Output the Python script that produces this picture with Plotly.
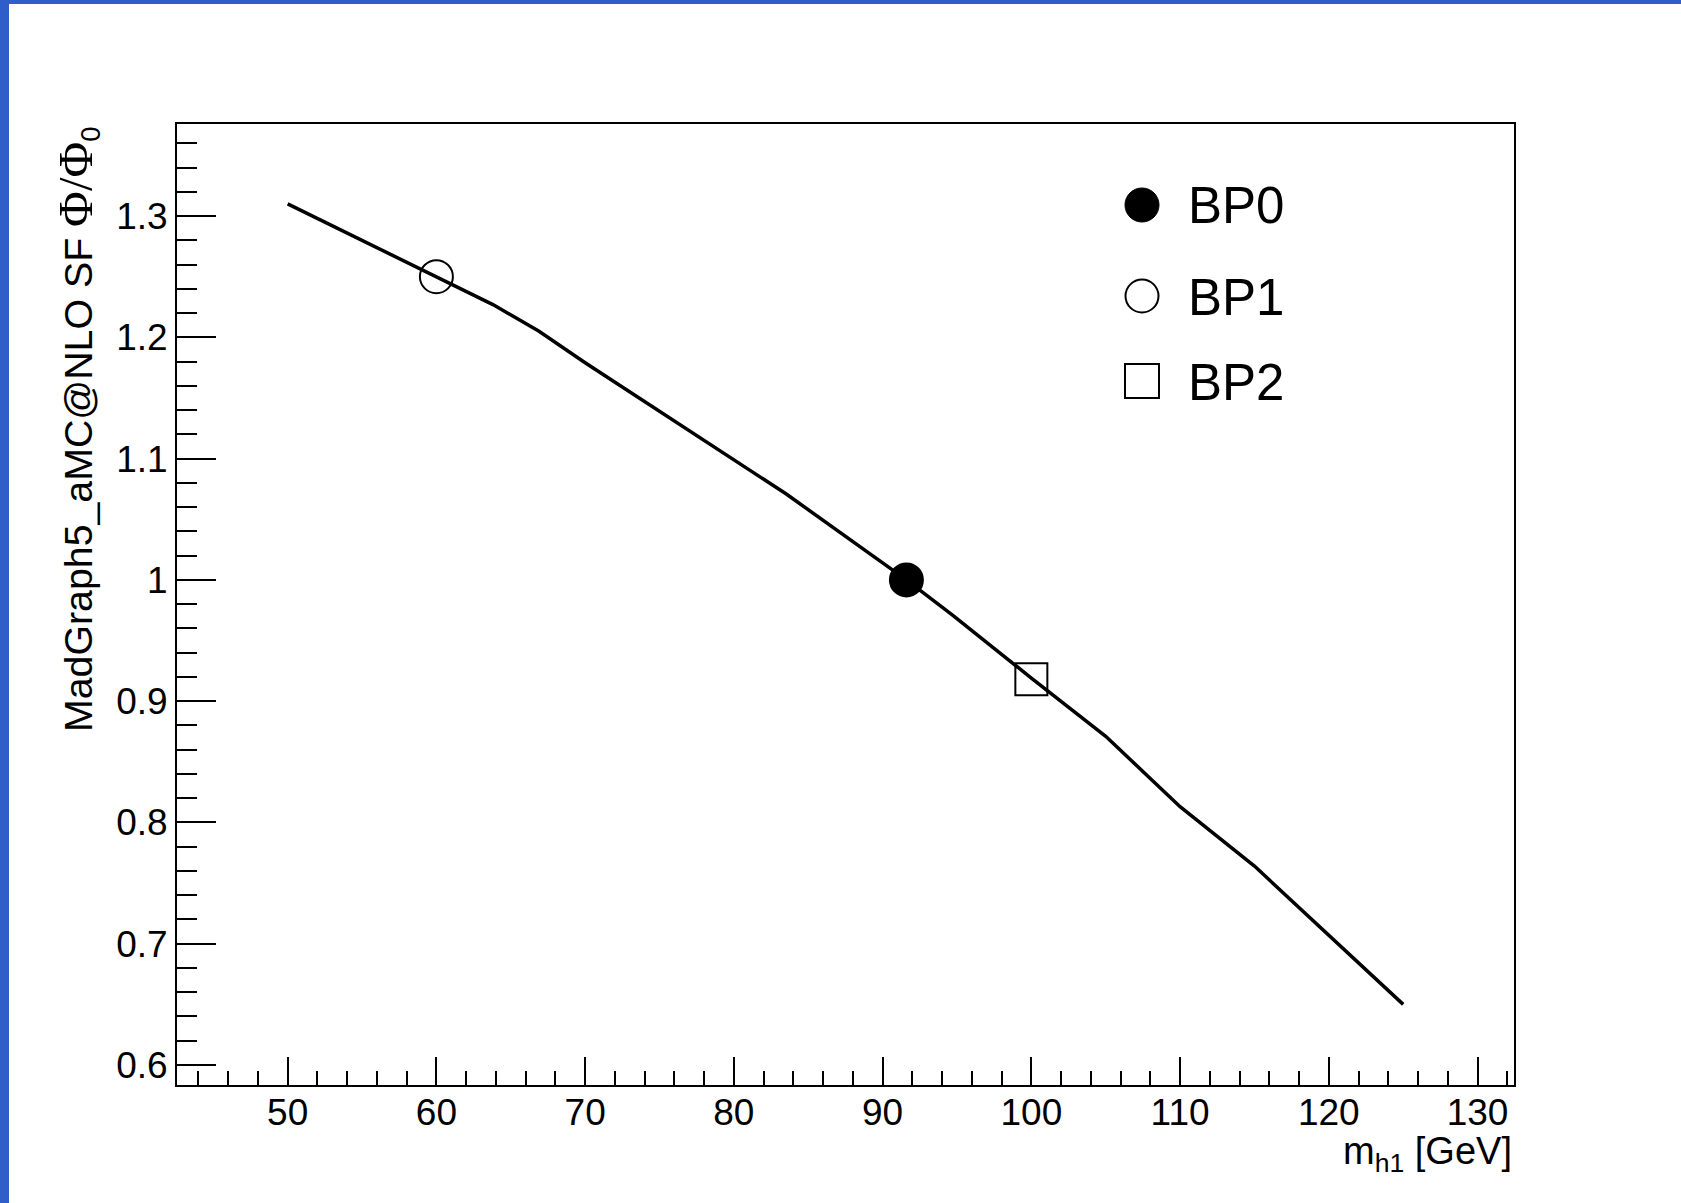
import plotly.graph_objects as go

# ---- data ----
mass = [50, 60, 63.8, 66.9, 70, 83.5, 91.6, 94.7, 100, 105, 110, 115, 125]
sf = [1.310, 1.250, 1.227, 1.205, 1.179, 1.071, 1.000, 0.971, 0.919, 0.871, 0.813, 0.764, 0.650]

bp_names = ["BP0", "BP1", "BP2"]
bp_mass = [91.6, 60, 100]
bp_sf = [1.000, 1.250, 0.918]
bp_symbols = ["circle", "circle-open", "square-open"]

x_ticks = [50, 60, 70, 80, 90, 100, 110, 120, 130]
y_ticks = [0.6, 0.7, 0.8, 0.9, 1.0, 1.1, 1.2, 1.3]
y_ticklabels = ["0.6", "0.7", "0.8", "0.9", "1", "1.1", "1.2", "1.3"]

W, H = 1681, 1203
L, R, T, B = 177, 1514, 124, 1085  # plot area in page pixels
PW, PH = R - L, B - T

FONT = "Liberation Sans, Arial, Helvetica, sans-serif"
SERIF = "Liberation Serif, Times New Roman, serif"
BLUE = "#305EC8"


def px(X):
    return (X - L) / PW


def py(Y):
    return (B - Y) / PH


fig = go.Figure()
fig.add_trace(go.Scatter(x=mass, y=sf, mode="lines",
                         line=dict(color="black", width=3.5),
                         showlegend=False, hoverinfo="skip"))
for name, m, s, sym in zip(bp_names, bp_mass, bp_sf, bp_symbols):
    fig.add_trace(go.Scatter(x=[m], y=[s], mode="markers", name=name,
                             marker=dict(symbol=sym, size=33 if sym != "square-open" else 32,
                                         color="black",
                                         line=dict(color="black", width=2)),
                             showlegend=False))

fig.update_layout(
    width=W, height=H,
    margin=dict(l=L, r=W - R, t=T, b=H - B, pad=0),
    paper_bgcolor="white", plot_bgcolor="white",
    font=dict(family=FONT, color="black", size=37),
    showlegend=False,
)

fig.update_xaxes(
    range=[42.56, 132.45], tickvals=x_ticks, ticktext=[str(v) for v in x_ticks],
    ticks="inside", ticklen=28, tickwidth=2, tickcolor="black",
    minor=dict(dtick=2, tick0=0, ticks="inside", ticklen=14, tickwidth=2, tickcolor="black"),
    showline=True, linewidth=2, linecolor="black", mirror=True,
    showgrid=False, zeroline=False, ticklabelstandoff=-6,
    tickfont=dict(family=FONT, size=37, color="black"),
)
fig.update_yaxes(
    range=[0.5835, 1.3759], tickvals=y_ticks, ticktext=y_ticklabels,
    ticks="inside", ticklen=39, tickwidth=2, tickcolor="black",
    minor=dict(dtick=0.02, tick0=0, ticks="inside", ticklen=20, tickwidth=2, tickcolor="black"),
    showline=True, linewidth=2, linecolor="black", mirror=True,
    showgrid=False, zeroline=False,
    tickfont=dict(family=FONT, size=37, color="black"),
)

# axis titles (ROOT style, aligned to axis end)
fig.add_annotation(
    text="m<sub>h1</sub> [GeV]", xref="paper", yref="paper",
    x=1.0, y=py(1128), xanchor="right", yanchor="top", showarrow=False,
    font=dict(family=FONT, size=38, color="black"),
)
fig.add_annotation(
    text="MadGraph5_aMC@NLO SF "
         f"<span style='font-family:{SERIF};font-size:49px'>Φ/Φ</span>"
         "<sub>0</sub>",
    xref="paper", yref="paper", x=px(77), y=1.0, xanchor="center", yanchor="top",
    textangle=-90, showarrow=False,
    font=dict(family=FONT, size=39.3, color="black"),
)

# legend (drawn in ROOT TLegend style)
leg_marker_x = px(1142)
leg_rows = [205, 296, 381]
shapes = []
shapes.append(dict(type="circle", xref="paper", yref="paper", xsizemode="pixel", ysizemode="pixel",
                   xanchor=leg_marker_x, yanchor=py(leg_rows[0]), x0=-17, x1=17, y0=-17, y1=17,
                   fillcolor="black", line=dict(color="black", width=1)))
shapes.append(dict(type="circle", xref="paper", yref="paper", xsizemode="pixel", ysizemode="pixel",
                   xanchor=leg_marker_x, yanchor=py(leg_rows[1]), x0=-16.5, x1=16.5, y0=-16.5, y1=16.5,
                   fillcolor="rgba(0,0,0,0)", line=dict(color="black", width=2)))
shapes.append(dict(type="rect", xref="paper", yref="paper", xsizemode="pixel", ysizemode="pixel",
                   xanchor=leg_marker_x, yanchor=py(leg_rows[2]), x0=-17, x1=17, y0=-17, y1=17,
                   fillcolor="rgba(0,0,0,0)", line=dict(color="black", width=2)))
for name, yrow in zip(bp_names, leg_rows):
    fig.add_annotation(text=name, xref="paper", yref="paper", x=px(1186), y=py(yrow + 1),
                       xanchor="left", yanchor="middle", showarrow=False,
                       font=dict(family=FONT, size=51, color="black"))

# blue canvas frame on the left and top edges
shapes.append(dict(type="rect", xref="paper", yref="paper", x0=px(0), x1=px(9), y0=py(H), y1=py(0),
                   fillcolor=BLUE, line=dict(width=0), layer="above"))
shapes.append(dict(type="rect", xref="paper", yref="paper", x0=px(0), x1=px(W), y0=py(4), y1=py(0),
                   fillcolor=BLUE, line=dict(width=0), layer="above"))
fig.update_layout(shapes=shapes)

fig.write_html("out.html", config={"displayModeBar": False},
               post_script="document.body.style.margin='0';")
